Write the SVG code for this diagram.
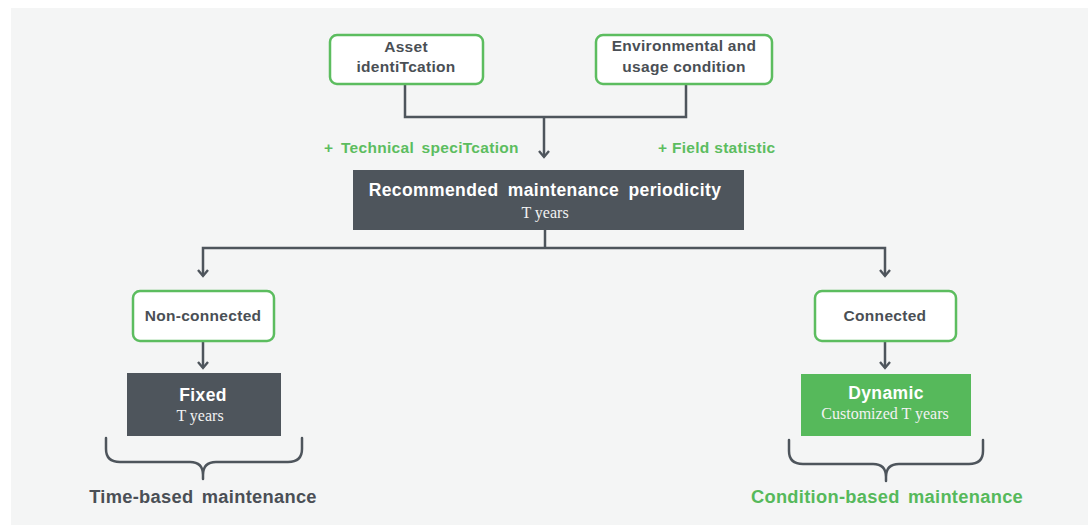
<svg xmlns="http://www.w3.org/2000/svg" width="1091" height="525" viewBox="0 0 1091 525">
  <defs>
    <style>
      .bg { fill: #f4f5f5; }
      .outline { fill: #ffffff; stroke: #5cbd5f; stroke-width: 2.5; }
      .dark { fill: #4e555c; }
      .green { fill: #56b95b; }
      .lbl { font-family: "Liberation Sans", Arial, sans-serif; font-weight: bold; font-size: 15.5px; letter-spacing: 0.3px; fill: #4a4f55; text-anchor: middle; }
      .title { font-family: "Liberation Sans", Arial, sans-serif; font-weight: bold; font-size: 17.5px; letter-spacing: 0.4px; fill: #ffffff; text-anchor: middle; }
      .sub { font-family: "Liberation Serif", "Times New Roman", serif; font-size: 16px; fill: #f2f2f2; text-anchor: middle; }
      .plus { font-family: "Liberation Sans", Arial, sans-serif; font-weight: bold; font-size: 15.5px; letter-spacing: 0.3px; fill: #5cbd5f; }
      .foot { font-family: "Liberation Sans", Arial, sans-serif; font-weight: bold; font-size: 18.3px; letter-spacing: 0.3px; text-anchor: middle; }
      .wire { fill: none; stroke: #4e555c; stroke-width: 2.5; }
      .brace { fill: none; stroke: #4e555c; stroke-width: 2.5; stroke-linecap: round; stroke-linejoin: round; }
    </style>
    <!-- open chevron arrowhead, drawn along +x so orient="auto" turns it with the line -->
    <marker id="arrow" viewBox="0 0 12 12" refX="10" refY="6" markerWidth="12" markerHeight="12" markerUnits="userSpaceOnUse" orient="auto-start-reverse">
      <path d="M4,1 L10,6 L4,11" fill="none" stroke="#4e555c" stroke-width="2.4"/>
    </marker>
  </defs>

  <rect class="bg" x="11" y="8" width="1077" height="517"/>

  <!-- connectors -->
  <g id="connectors">
    <path class="wire" d="M405,84 V117 H686 V84"/>
    <path class="wire" d="M544,117 V157" marker-end="url(#arrow)"/>
    <path class="wire" d="M545,230 V248"/>
    <path class="wire" d="M203,276 V248 H885 V276" marker-start="url(#arrow)" marker-end="url(#arrow)"/>
    <path class="wire" d="M203,341 V368" marker-end="url(#arrow)"/>
    <path class="wire" d="M885,341 V368" marker-end="url(#arrow)"/>
  </g>

  <g id="asset">
    <rect class="outline" x="330" y="35" width="153" height="49" rx="7"/>
    <text class="lbl" x="406" y="52">Asset</text>
    <text class="lbl" x="406" y="72">identiTcation</text>
  </g>

  <g id="environment">
    <rect class="outline" x="596" y="35" width="176" height="49" rx="7"/>
    <text class="lbl" x="684" y="51">Environmental and</text>
    <text class="lbl" x="684" y="72">usage condition</text>
  </g>

  <g id="extras">
    <text class="plus" x="324" y="153" word-spacing="3">+ Technical speciTcation</text>
    <text class="plus" x="658" y="153">+ Field statistic</text>
  </g>

  <g id="periodicity">
    <rect class="dark" x="353" y="170" width="391" height="60"/>
    <text class="title" x="545" y="196" word-spacing="4">Recommended maintenance periodicity</text>
    <text class="sub" x="545" y="218">T years</text>
  </g>

  <g id="non-connected">
    <rect class="outline" x="133" y="291" width="141" height="50" rx="7"/>
    <text class="lbl" x="203" y="321">Non-connected</text>
  </g>

  <g id="connected">
    <rect class="outline" x="815" y="291" width="141" height="50" rx="7"/>
    <text class="lbl" x="885" y="321">Connected</text>
  </g>

  <g id="fixed">
    <rect class="dark" x="127" y="373" width="154" height="63"/>
    <text class="title" x="203" y="401">Fixed</text>
    <text class="sub" x="200" y="421">T years</text>
  </g>

  <g id="dynamic">
    <rect class="green" x="801" y="374" width="170" height="62"/>
    <text class="title" x="886" y="399">Dynamic</text>
    <text class="sub" x="885" y="419">Customized T years</text>
  </g>

  <g id="time-based">
    <path class="brace" d="M106,438 V449 Q106,462 120,462 H190 Q203,462 203,475 V479 M302,438 V449 Q302,462 288,462 H216 Q203,462 203,475"/>
    <text class="foot" x="203" y="503" fill="#4a4f55" word-spacing="3">Time-based maintenance</text>
  </g>

  <g id="condition-based">
    <path class="brace" d="M789,440 V451 Q789,464 803,464 H873 Q886,464 886,477 V481 M983,440 V451 Q983,464 969,464 H899 Q886,464 886,477"/>
    <text class="foot" x="887" y="503" fill="#56b95b" word-spacing="3">Condition-based maintenance</text>
  </g>
</svg>
